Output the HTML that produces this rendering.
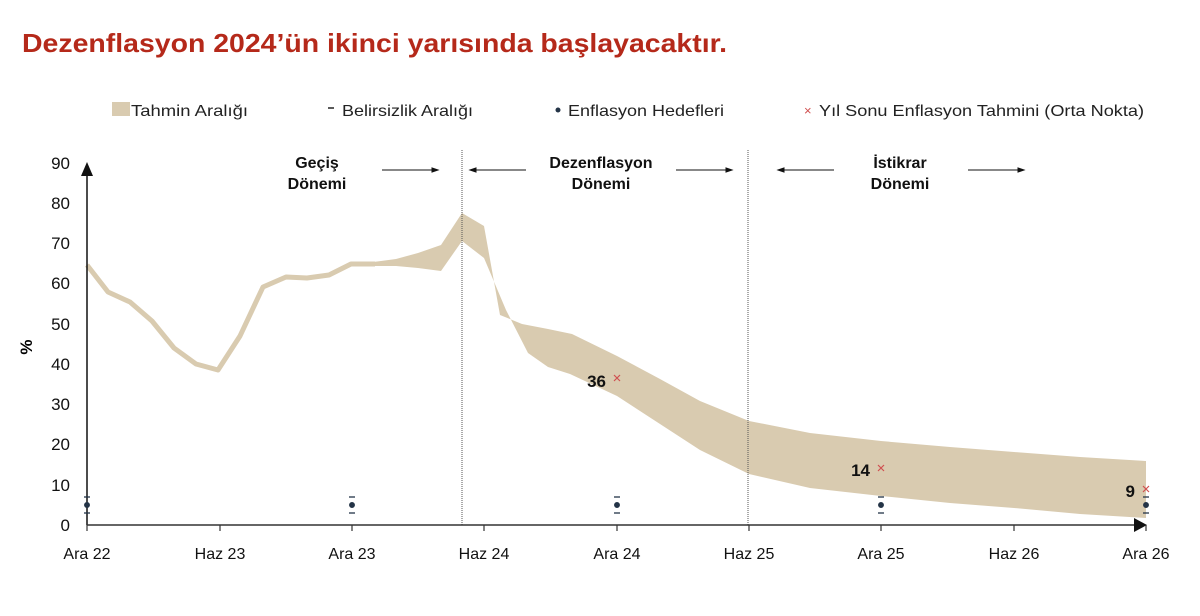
<!DOCTYPE html>
<html><head><meta charset="utf-8"><style>
body{margin:0;background:#fff;width:1200px;height:611px;overflow:hidden}
svg text{font-family:"Liberation Sans",sans-serif}
</style></head><body>
<svg width="1200" height="611" viewBox="0 0 1200 611" xmlns="http://www.w3.org/2000/svg">
<text x="22" y="52" font-size="26" font-weight="bold" fill="#b5291a" textLength="705" lengthAdjust="spacingAndGlyphs">Dezenflasyon 2024’ün ikinci yarısında başlayacaktır.</text>
<!-- legend -->
<rect x="112" y="102" width="18" height="14" fill="#d9cbb0"/>
<text x="131" y="116" font-size="16" fill="#222" textLength="117" lengthAdjust="spacingAndGlyphs">Tahmin Aralığı</text>
<line x1="328" y1="108" x2="334" y2="108" stroke="#222" stroke-width="1.5"/>
<text x="342" y="116" font-size="16" fill="#222" textLength="131" lengthAdjust="spacingAndGlyphs">Belirsizlik Aralığı</text>
<circle cx="558" cy="110" r="2.5" fill="#243447"/>
<text x="568" y="116" font-size="16" fill="#222" textLength="156" lengthAdjust="spacingAndGlyphs">Enflasyon Hedefleri</text>
<text x="804" y="115" font-size="13" fill="#d05050">×</text>
<text x="819" y="116" font-size="16" fill="#222" textLength="325" lengthAdjust="spacingAndGlyphs">Yıl Sonu Enflasyon Tahmini (Orta Nokta)</text>
<!-- y ticks -->
<g font-size="17" fill="#111" text-anchor="end">
<text x="70" y="531">0</text><text x="70" y="491">10</text><text x="70" y="450">20</text><text x="70" y="410">30</text><text x="70" y="370">40</text><text x="70" y="330">50</text><text x="70" y="289">60</text><text x="70" y="249">70</text><text x="70" y="209">80</text><text x="70" y="169">90</text>
</g>
<text x="32" y="347" font-size="17" font-weight="bold" transform="rotate(-90 32 347)" text-anchor="middle">%</text>
<!-- band -->
<polygon fill="#d9cbb0" points="373,262 396,259 418,253 441,245 462,213 484,226 500,315 522,324 548,329 572,334 617,356 660,379 700,401 749,421 810,433 881,441 950,447 1014,452 1080,457 1146,461 1146,518 1080,514 1014,508 950,503 881,496 810,488 749,474 700,450 617,396 570,374 548,367 528,353 506,310 484,258 462,241 441,271 418,268 396,266 373,266"/>
<polyline fill="none" stroke="#d9cbb0" stroke-width="5" stroke-linejoin="round" points="87,265 108,292 130,302 152,321 174,348 196,364 218,370 240,336 263,287 286,277 307,278 329,275 351,264 375,264"/>
<!-- dividers -->
<line x1="462" y1="150" x2="462" y2="525" stroke="#555" stroke-width="1" stroke-dasharray="1,1"/>
<line x1="748" y1="150" x2="748" y2="525" stroke="#555" stroke-width="1" stroke-dasharray="1,1"/>
<!-- axes -->
<line x1="87" y1="525" x2="87" y2="170" stroke="#111" stroke-width="1.5"/>
<polygon points="81,176 93,176 87,162" fill="#111"/>
<line x1="87" y1="525" x2="1138" y2="525" stroke="#333" stroke-width="1.5"/>
<polygon points="1134,518 1134,532 1147,525" fill="#111"/>
<g stroke="#333" stroke-width="1.2">
<line x1="87" y1="525" x2="87" y2="531"/><line x1="220" y1="525" x2="220" y2="531"/><line x1="352" y1="525" x2="352" y2="531"/><line x1="484" y1="525" x2="484" y2="531"/><line x1="617" y1="525" x2="617" y2="531"/><line x1="749" y1="525" x2="749" y2="531"/><line x1="881" y1="525" x2="881" y2="531"/><line x1="1014" y1="525" x2="1014" y2="531"/><line x1="1146" y1="525" x2="1146" y2="531"/>
</g>
<g font-size="16" fill="#111" text-anchor="middle">
<text x="87" y="559">Ara 22</text><text x="220" y="559">Haz 23</text><text x="352" y="559">Ara 23</text><text x="484" y="559">Haz 24</text><text x="617" y="559">Ara 24</text><text x="749" y="559">Haz 25</text><text x="881" y="559">Ara 25</text><text x="1014" y="559">Haz 26</text><text x="1146" y="559">Ara 26</text>
</g>
<!-- targets -->
<g fill="#243447" stroke="#243447" stroke-width="1.3">
<circle cx="87" cy="505" r="2.3"/><line x1="84" y1="497" x2="90" y2="497"/><line x1="84" y1="513" x2="90" y2="513"/>
<circle cx="352" cy="505" r="2.3"/><line x1="349" y1="497" x2="355" y2="497"/><line x1="349" y1="513" x2="355" y2="513"/>
<circle cx="617" cy="505" r="2.3"/><line x1="614" y1="497" x2="620" y2="497"/><line x1="614" y1="513" x2="620" y2="513"/>
<circle cx="881" cy="505" r="2.3"/><line x1="878" y1="497" x2="884" y2="497"/><line x1="878" y1="513" x2="884" y2="513"/>
<circle cx="1146" cy="505" r="2.3"/><line x1="1143" y1="497" x2="1149" y2="497"/><line x1="1143" y1="513" x2="1149" y2="513"/>
</g>
<g stroke="#d05050" stroke-width="1.2">
<path d="M614,375 l6,6 M620,375 l-6,6"/><path d="M878,465 l6,6 M884,465 l-6,6"/><path d="M1143,486 l6,6 M1149,486 l-6,6"/>
</g>
<g font-size="17" font-weight="bold" fill="#111" text-anchor="end">
<text x="606" y="387">36</text><text x="870" y="476">14</text><text x="1135" y="497">9</text>
</g>
<!-- periods -->
<g font-size="16" font-weight="bold" fill="#111" text-anchor="middle">
<text x="317" y="168">Geçiş</text><text x="317" y="189">Dönemi</text>
<text x="601" y="168">Dezenflasyon</text><text x="601" y="189">Dönemi</text>
<text x="900" y="168">İstikrar</text><text x="900" y="189">Dönemi</text>
</g>
<g stroke="#111" stroke-width="1" fill="#111">
<line x1="382" y1="170" x2="434" y2="170"/><polygon points="438,170 432,168 432,172"/>
<line x1="474" y1="170" x2="526" y2="170"/><polygon points="470,170 476,168 476,172"/>
<line x1="676" y1="170" x2="728" y2="170"/><polygon points="732,170 726,168 726,172"/>
<line x1="782" y1="170" x2="834" y2="170"/><polygon points="778,170 784,168 784,172"/>
<line x1="968" y1="170" x2="1020" y2="170"/><polygon points="1024,170 1018,168 1018,172"/>
</g>
</svg>
</body></html>
